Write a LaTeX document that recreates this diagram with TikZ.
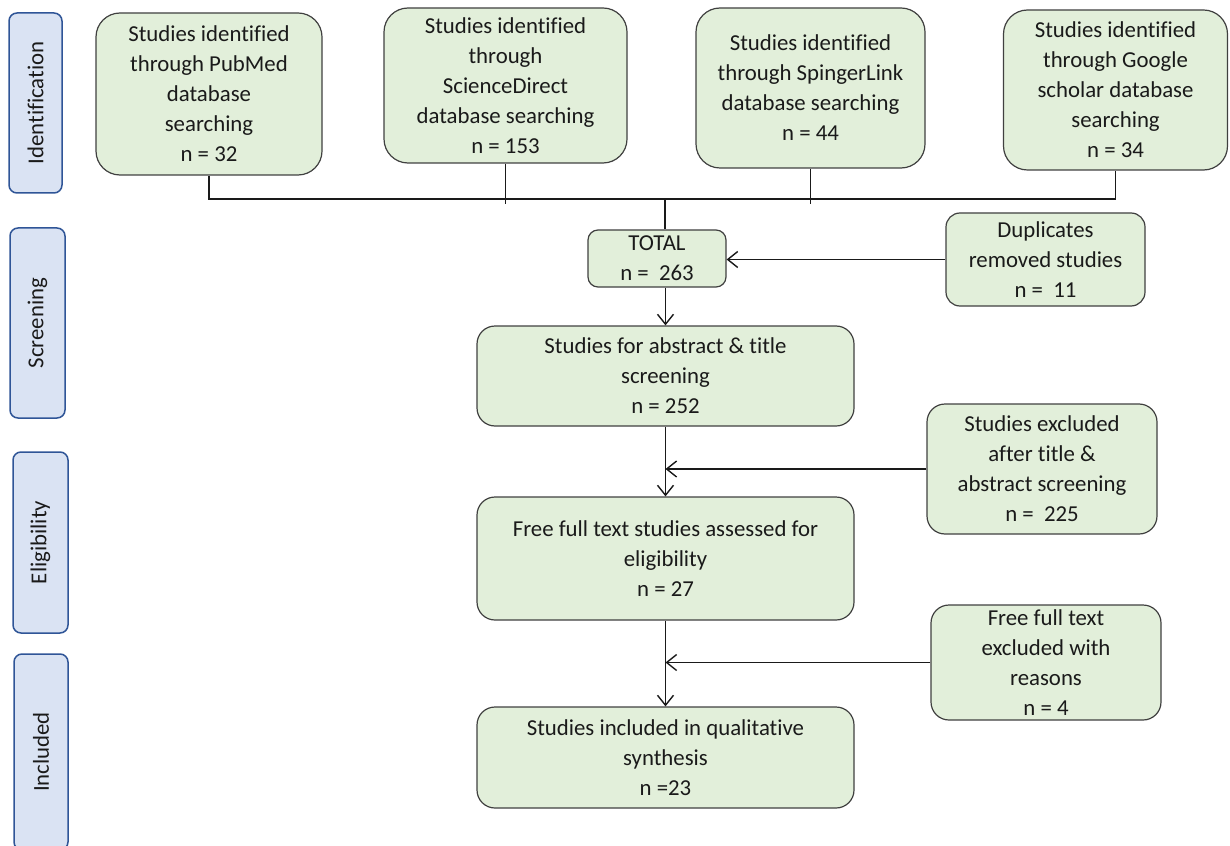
\documentclass[tikz,border=0pt]{standalone}
\usepackage{fontspec}
\setmainfont{Carlito}[Ligatures=NoCommon]
\usetikzlibrary{arrows.meta}
\definecolor{ink}{HTML}{1A1A1A}
\definecolor{edge}{HTML}{404040}
\definecolor{leaf}{HTML}{E2EFDA}
\definecolor{stagefill}{HTML}{DAE3F3}
\definecolor{stageline}{HTML}{2F5597}
\newcommand{\px}{0.5pt}
% study box: name, x, y, width, height, radius, text
\newcommand{\studyat}[7]{\node[studybox, minimum width=#4*\px, minimum height=#5*\px, rounded corners=#6*\px] (#1) at (#2,#3) {#7};}
% stage label on the left
\newcommand{\stage}[6]{\node[stagebox, minimum width=#4*\px, minimum height=#5*\px] (#1) at (#2,#3) {\rotatebox{90}{#6}};}
\tikzset{
  studybox/.style={draw=edge, fill=leaf, line width=.6pt, align=center, inner sep=1pt,
    font=\fontsize{11.4}{15}\selectfont, text=ink},
  stagebox/.style={draw=stageline, fill=stagefill, line width=.75pt, rounded corners=4pt,
    inner sep=0pt, font=\fontsize{11.4}{15}\selectfont, text=ink},
  link/.style={ink, line width=.7pt},
  flow/.style={->, ink, line width=.7pt}
}

\begin{document}
\begin{tikzpicture}[x=0.5pt, y=-0.5pt, >={Straight Barb[length=5pt,width=8pt]}]
\useasboundingbox (0,0) rectangle (1230,845);

% ================= stage labels =================
\stage{idlab}{35.5}{103}{53}{180}{Identification}
\stage{scrlab}{37.5}{323}{55}{190}{Screening}
\stage{elilab}{40.5}{542.5}{55}{181}{Eligibility}
\stage{inclab}{41}{752}{54}{196}{Included}

% ================= identification =================
\studyat{pub}{209}{94}{226}{162}{24}{Studies identified\\through PubMed\\database\\searching\\n = 32}
\studyat{sd}{505.5}{85.5}{243}{155}{24}{Studies identified\\through\\ScienceDirect\\database searching\\n = 153}
\studyat{spr}{810.5}{88}{229}{160}{24}{Studies identified\\through SpingerLink\\database searching\\n = 44}
\studyat{goo}{1115.5}{90}{224}{160}{24}{Studies identified\\through Google\\scholar database\\searching\\n = 34}

% ================= screening and below =================
\studyat{total}{657}{258.5}{138}{57}{10}{TOTAL\\n = \ 263}
\studyat{dup}{1045.5}{259.5}{199}{93}{14}{Duplicates\\removed studies\\n = \ 11}
\studyat{abs}{665.5}{376}{377}{100}{18}{Studies for abstract \& title\\screening\\n = 252}
\studyat{excl}{1042}{469}{230}{130}{18}{Studies excluded\\after title \&\\abstract screening\\n = \ 225}
\studyat{free}{665.5}{558.5}{377}{123}{18}{Free full text studies assessed for\\eligibility\\n = 27}
\studyat{fexcl}{1046}{662.5}{230}{115}{18}{Free full text\\excluded with\\reasons\\n = 4}
\studyat{incl}{665.5}{757.5}{377}{101}{18}{Studies included in qualitative\\synthesis\\n =23}

% ================= connectors =================
\coordinate (bus) at (665,199);
\draw[link] (pub.south) |- (goo.south |- bus) -- (goo.south);
\draw[ink, line width=.4pt] (sd.south) -- ++(0,40);
\draw[ink, line width=.4pt] (spr.south) -- ++(0,35);
\draw[link] (bus) -- (bus |- total.north);
\draw[flow] (dup.west) -- (dup.west -| total.east);
\draw[flow] (abs.north |- total.south) -- (abs.north);
\draw[flow] (abs.south) -- (free.north);
\draw[flow] (excl.west) -- (excl.west -| abs.south);
\draw[flow] (free.south) -- (incl.north);
\draw[flow] (fexcl.west) -- (fexcl.west -| free.south);

\end{tikzpicture}
\end{document}
